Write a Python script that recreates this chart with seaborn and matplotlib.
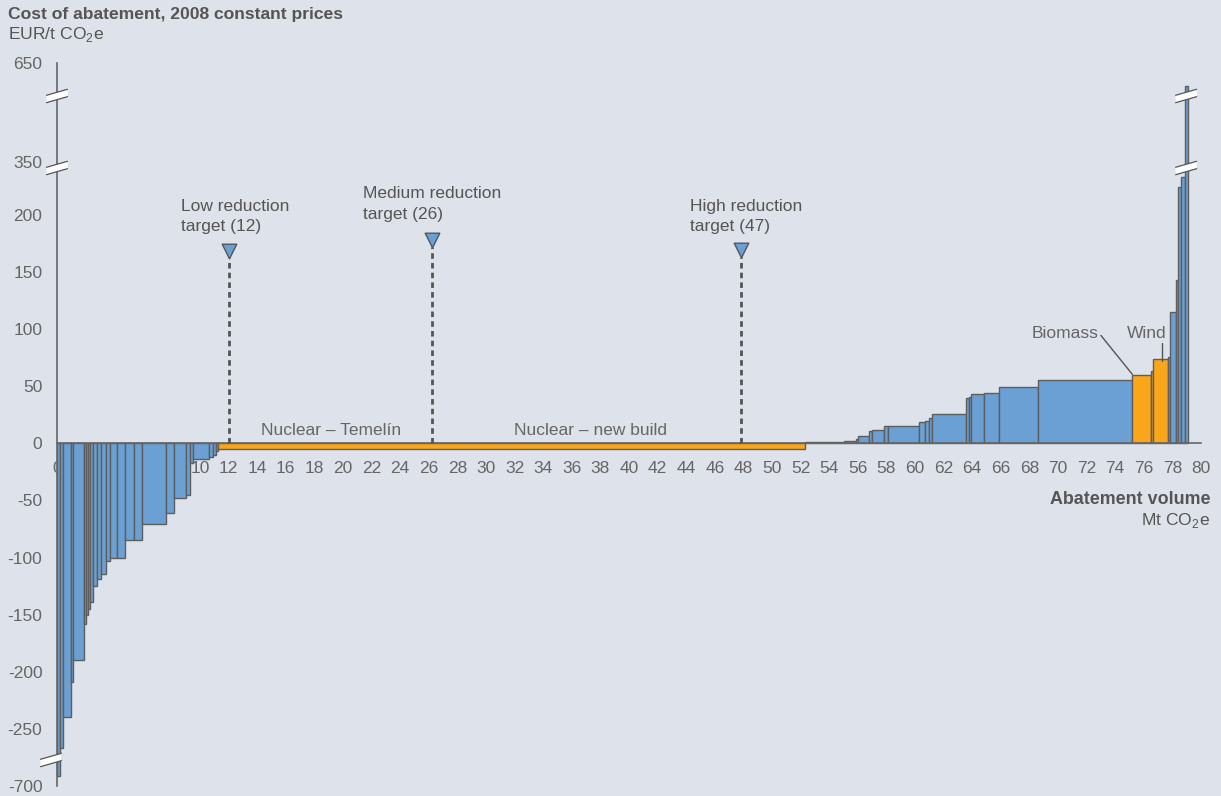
import numpy as np
import pandas as pd
import matplotlib
matplotlib.use("Agg")
import matplotlib.pyplot as plt
import matplotlib.transforms as mtransforms
from matplotlib.patches import Polygon
import seaborn as sns

# ---------------- data ----------------
widths = [0.20, 0.24, 0.54, 0.12, 0.79, 0.14, 0.16, 0.12, 0.23, 0.24, 0.28, 0.37, 0.28,
          0.51, 0.52, 0.65, 0.58, 1.63, 0.60, 0.80, 0.27, 0.23, 1.10, 0.30, 0.20, 0.14,
          41.06,
          2.70, 0.85, 0.15, 0.80, 0.20, 0.80, 0.30, 2.20, 0.40, 0.30, 0.20, 2.40, 0.15,
          0.15, 0.90, 1.10, 2.70, 6.55,
          1.35, 0.15, 1.05,
          0.10, 0.44, 0.16, 0.19, 0.30, 0.23]
costs = [-620, -400, -240, -209, -190, -158, -150, -145, -139, -125, -119, -114, -103,
         -100, -100, -85, -85, -71, -61, -48, -45, -17, -14, -12, -10, -7,
         -5,
         1, 2, 4, 6, 11, 11.5, 15, 15, 19, 20, 22, 26, 40,
         41, 43, 44, 49.6, 55.4,
         59.5, 63, 74,
         76, 115, 143, 281, 308, 580]
highlight = [False] * 26 + [True] + [False] * 18 + [True, True, True] + [False] * 6

target_x = [12.0, 26.2, 47.8]
target_marker_y = [168, 178, 169]
target_labels = ["Low reduction\ntarget (12)", "Medium reduction\ntarget (26)",
                 "High reduction\ntarget (47)"]
target_text_x = [8.67, 21.4, 44.3]
target_text_yfrac = [0.788, 0.805, 0.788]

x_ticks = list(range(0, 81, 2))
y_ticks = [-700, -250, -200, -150, -100, -50, 0, 50, 100, 150, 200, 350, 650]

# ---------------- style ----------------
BG = "#DEE2EA"
BLUE = "#6AA0D4"
ORANGE = "#F9A61B"
EDGE = "#5E5E5E"
TXT = "#666666"
DARK = "#555555"

sns.set_theme(style="white", rc={"axes.facecolor": BG, "figure.facecolor": BG,
                                 "axes.unicode_minus": False})
plt.rcParams["font.family"] = ["Liberation Sans", "DejaVu Sans"]
plt.rcParams["mathtext.fontset"] = "custom"
plt.rcParams["mathtext.rm"] = "Liberation Sans"

FS = 12.5
TFS = 12.6


def fwd(v):
    v = np.asarray(v, dtype=float)
    return np.where(v < -250, -250 + (v + 250) / 9.0,
                    np.where(v <= 200, v,
                             np.where(v <= 350, 200 + (v - 200) * 46 / 150,
                                      246 + (v - 350) * 87 / 300)))


def inv(u):
    u = np.asarray(u, dtype=float)
    return np.where(u < -250, -250 + (u + 250) * 9.0,
                    np.where(u <= 200, u,
                             np.where(u <= 246, 200 + (u - 200) * 150 / 46,
                                      350 + (u - 246) * 300 / 87)))


df = pd.DataFrame({"width": widths, "cost": costs, "hl": highlight})
df["start"] = np.concatenate([[0.0], np.cumsum(df["width"].values)[:-1]])
df["color"] = np.where(df["hl"], ORANGE, BLUE)

W, H = 1221, 796
fig = plt.figure(figsize=(W / 100, H / 100), dpi=100)
ax = fig.add_axes([57 / W, 10 / H, (1201 - 57) / W, 723 / H])
ax.set_yscale("function", functions=(fwd, inv))

ax.bar(df["start"], df["cost"], width=df["width"], align="edge", color=df["color"],
       edgecolor=EDGE, linewidth=1.0, zorder=1)

ax.set_xlim(0, 80)
ax.set_ylim(-700, 650)

# spines
for s in ["top", "right"]:
    ax.spines[s].set_visible(False)
ax.spines["bottom"].set_position(("data", 0))
for s in ["left", "bottom"]:
    ax.spines[s].set_color(TXT)
    ax.spines[s].set_linewidth(1.2)

ax.set_xticks(x_ticks)
ax.set_xticklabels([str(t) for t in x_ticks])
ax.set_yticks(y_ticks)
ax.set_yticklabels([str(t) for t in y_ticks])
ax.yaxis.set_minor_locator(matplotlib.ticker.NullLocator())
ax.xaxis.set_minor_locator(matplotlib.ticker.NullLocator())
ax.tick_params(axis="x", direction="in", length=6, width=1.2, color=TXT, pad=12.5,
               labelsize=FS, labelcolor=TXT)
ax.tick_params(axis="y", direction="in", length=6, width=1.2, color=TXT, pad=10.5,
               labelsize=FS, labelcolor=TXT)
ax.grid(False)

# targets
for tx, ty, lab, lx, lyf in zip(target_x, target_marker_y, target_labels,
                                target_text_x, target_text_yfrac):
    ax.plot([tx, tx], [0, ty - 6], color=DARK, lw=2, linestyle=(0, (2.0, 1.5)), zorder=3)
    ax.text(lx, lyf, lab, transform=ax.get_xaxis_transform(), ha="left", va="center",
            fontsize=FS, color=DARK, linespacing=1.42)
tdf = pd.DataFrame({"x": target_x, "y": target_marker_y})
sns.scatterplot(data=tdf, x="x", y="y", marker="v", s=110, color=BLUE, edgecolor=DARK,
                linewidth=1.0, ax=ax, zorder=4, legend=False)
ax.set_xlabel("")
ax.set_ylabel("")

# segment labels
ax.text(19.2, 11, "Nuclear – Temelín", ha="center", va="center", fontsize=FS, color=TXT)
ax.text(37.3, 11, "Nuclear – new build", ha="center", va="center", fontsize=FS, color=TXT)
ax.text(72.8, 96, "Biomass", ha="right", va="center", fontsize=FS, color=TXT)
ax.plot([73.0, 75.2], [94.5, 60.4], color=DARK, lw=1.0, zorder=3)
ax.text(74.8, 96, "Wind", ha="left", va="center", fontsize=FS, color=TXT)
ax.plot([77.3, 77.3], [88, 72], color=DARK, lw=1.0, zorder=3)

# axis break marks
def brk(x, yfrac, dx_px=0.0):
    trans = fig.dpi_scale_trans + mtransforms.ScaledTranslation(
        x, yfrac, ax.get_xaxis_transform())
    hl, rise, hh = 0.105, 0.03, 0.037
    o = dx_px / 100
    verts = [(-hl + o, -rise - hh), (hl + o, rise - hh), (hl + o, rise + hh), (-hl + o, -rise + hh)]
    ax.add_patch(Polygon(verts, closed=True, facecolor="white", edgecolor="none",
                         transform=trans, clip_on=False, zorder=6))
    for sgn in (-1, 1):
        ax.plot([-hl + o, hl + o], [-rise + sgn * hh, rise + sgn * hh], color=DARK, lw=0.9,
                transform=trans, clip_on=False, zorder=7)

brk(0, 0.9544)
brk(0, 0.8548)
brk(0, 0.036, dx_px=-6)
brk(78.96, 0.9544)
brk(78.96, 0.8548)

# titles
fig.text(8 / W, 1 - 14 / H, "Cost of abatement, 2008 constant prices", ha="left",
         va="center", fontsize=TFS, fontweight="bold", color=DARK)
fig.text(8 / W, 1 - 34 / H, "EUR/t CO$_\\mathregular{2}$e", ha="left", va="center",
         fontsize=TFS, color=DARK)
fig.text(1210 / W, 1 - 499 / H, "Abatement volume", ha="right", va="center",
         fontsize=TFS + 0.3, fontweight="bold", color=DARK)
fig.text(1210 / W, 1 - 520 / H, "Mt CO$_\\mathregular{2}$e", ha="right", va="center",
         fontsize=TFS, color=DARK)

fig.savefig("out.png", dpi=100, facecolor=BG)
